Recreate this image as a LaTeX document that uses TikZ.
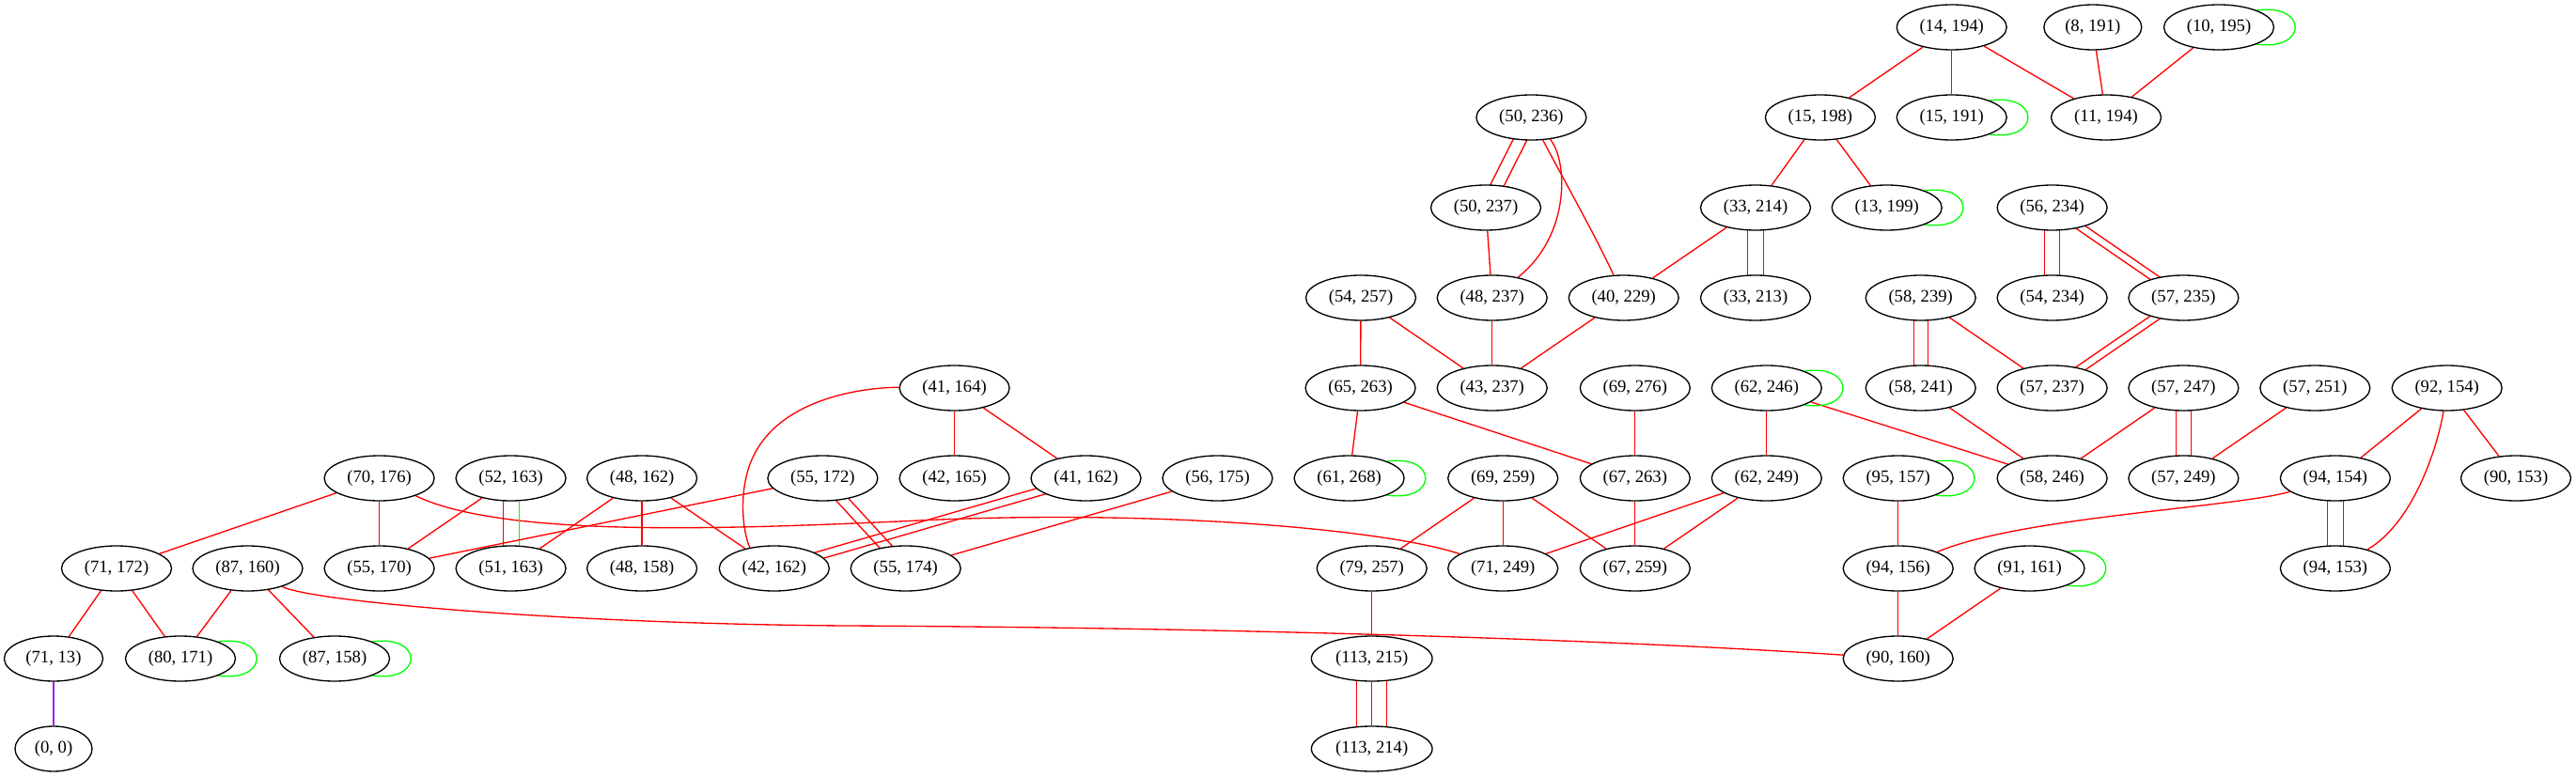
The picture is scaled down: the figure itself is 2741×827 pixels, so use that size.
\documentclass[tikz,border=0pt]{standalone}
\usepackage{fontspec}
\setmainfont{Liberation Serif}
\usetikzlibrary{shapes.geometric,calc,backgrounds}
\definecolor{gvred}{HTML}{FF0000}
\definecolor{gvgreen}{HTML}{00FF00}
\definecolor{gvpurple}{HTML}{A020F0}
\tikzset{
  nd/.style={draw=black, fill=white, ellipse, line width=1pt, inner sep=0pt,
    minimum width=87.75pt, minimum height=36pt, font=\fontsize{14pt}{16pt}\selectfont},
  e/.style={draw=gvred, line width=1pt},
  g/.style={draw=gvgreen, line width=1pt},
  p/.style={draw=gvpurple, line width=1pt}
}
\newcommand\dbledge[4]{%
  \draw[e] ($(#1)+(#3,#4)$) -- ($(#2)+(#3,#4)$);
  \draw[e] ($(#1)-(#3,#4)$) -- ($(#2)-(#3,#4)$);}
\newcommand\selfloop[1]{%
  \draw[g] ($(#1)+(40,-18)$) .. controls ($(#1)+(95,-26)$) and ($(#1)+(95,26)$) .. ($(#1)+(40,18)$);}
\begin{document}
\begin{tikzpicture}[x=0.75pt,y=-0.75pt]
\useasboundingbox (0,0) rectangle (2741,827);
% row 1
\node[nd] (n14x194) at (2076.7,29) {(14, 194)};
\node[nd,minimum width=78pt] (n8x191) at (2226.8,29) {(8, 191)};
\node[nd] (n10x195) at (2361,29) {(10, 195)};
% row 2
\node[nd] (n50x236) at (1629.4,125) {(50, 236)};
\node[nd] (n15x198) at (1936.9,125) {(15, 198)};
\node[nd] (n15x191) at (2076.7,125) {(15, 191)};
\node[nd] (n11x194) at (2241,125) {(11, 194)};
% row 3
\node[nd] (n50x237) at (1581,221) {(50, 237)};
\node[nd] (n33x214) at (1868,221) {(33, 214)};
\node[nd] (n13x199) at (2007.7,221) {(13, 199)};
\node[nd] (n56x234) at (2183.6,221) {(56, 234)};
% row 4
\node[nd] (n54x257) at (1448,317) {(54, 257)};
\node[nd] (n48x237) at (1587.7,317) {(48, 237)};
\node[nd] (n40x229) at (1727.7,317) {(40, 229)};
\node[nd] (n33x213) at (1868,317) {(33, 213)};
\node[nd] (n58x239) at (2043.7,317) {(58, 239)};
\node[nd] (n54x234) at (2183.6,317) {(54, 234)};
\node[nd] (n57x235) at (2323.4,317) {(57, 235)};
% row 5
\node[nd] (n41x164) at (1015.6,413) {(41, 164)};
\node[nd] (n65x263) at (1447.6,413) {(65, 263)};
\node[nd] (n43x237) at (1587.7,413) {(43, 237)};
\node[nd] (n69x276) at (1739.8,413) {(69, 276)};
\node[nd] (n62x246) at (1879.8,413) {(62, 246)};
\node[nd] (n58x241) at (2043.7,413) {(58, 241)};
\node[nd] (n57x237) at (2183.6,413) {(57, 237)};
\node[nd] (n57x247) at (2323.4,413) {(57, 247)};
\node[nd] (n57x251) at (2463.3,413) {(57, 251)};
\node[nd] (n92x154) at (2603.7,413) {(92, 154)};
% row 6
\node[nd] (n70x176) at (403.6,509) {(70, 176)};
\node[nd] (n52x163) at (543.6,509) {(52, 163)};
\node[nd] (n48x162) at (683.1,509) {(48, 162)};
\node[nd] (n55x172) at (875.4,509) {(55, 172)};
\node[nd] (n42x165) at (1015.6,509) {(42, 165)};
\node[nd] (n41x162) at (1155.5,509) {(41, 162)};
\node[nd] (n56x175) at (1295.5,509) {(56, 175)};
\node[nd] (n61x268) at (1435.6,509) {(61, 268)};
\node[nd] (n69x259) at (1599.2,509) {(69, 259)};
\node[nd] (n67x263) at (1739.8,509) {(67, 263)};
\node[nd] (n62x249) at (1879.8,509) {(62, 249)};
\node[nd] (n95x157) at (2019.7,509) {(95, 157)};
\node[nd] (n58x246) at (2183.6,509) {(58, 246)};
\node[nd] (n57x249) at (2323.4,509) {(57, 249)};
\node[nd] (n94x154) at (2484.9,509) {(94, 154)};
\node[nd] (n90x153) at (2677,509) {(90, 153)};
% row 7
\node[nd] (n71x172) at (124,605) {(71, 172)};
\node[nd] (n87x160) at (263.5,605) {(87, 160)};
\node[nd] (n55x170) at (403.6,605) {(55, 170)};
\node[nd] (n51x163) at (543.6,605) {(51, 163)};
\node[nd] (n48x158) at (683.1,605) {(48, 158)};
\node[nd] (n42x162) at (823.8,605) {(42, 162)};
\node[nd] (n55x174) at (963.7,605) {(55, 174)};
\node[nd] (n79x257) at (1459.7,605) {(79, 257)};
\node[nd] (n71x249) at (1599.2,605) {(71, 249)};
\node[nd] (n67x259) at (1739.8,605) {(67, 259)};
\node[nd] (n94x156) at (2019.7,605) {(94, 156)};
\node[nd] (n91x161) at (2159.5,605) {(91, 161)};
\node[nd] (n94x153) at (2484.9,605) {(94, 153)};
% row 8
\node[nd,minimum width=78.75pt] (n71x13) at (57,701) {(71, 13)};
\node[nd] (n80x171) at (192,701) {(80, 171)};
\node[nd] (n87x158) at (356,701) {(87, 158)};
\node[nd,minimum width=96.5pt] (n113x215) at (1459.7,701) {(113, 215)};
\node[nd] (n90x160) at (2019.7,701) {(90, 160)};
% row 9
\node[nd,minimum width=61.5pt] (n0x0) at (57,797) {(0, 0)};
\node[nd,minimum width=96.5pt] (n113x214) at (1459.7,797) {(113, 214)};

\begin{pgfonlayer}{background}
\draw[e] (n14x194) -- (n15x198);
\draw[e] (n14x194) -- (n15x191);
\draw[e] (n14x194) -- (n11x194);
\draw[e] (n8x191) -- (n11x194);
\draw[e] (n10x195) -- (n11x194);
\draw[e] (n15x198) -- (n33x214);
\draw[e] (n15x198) -- (n13x199);
\dbledge{n50x236}{n50x237}{7.5}{0}
\draw[e] (n50x236) .. controls (1668,170) and (1672,250) .. (n48x237);
\draw[e] (n50x236) .. controls (1655,175) and (1700,255) .. (n40x229);
\draw[e] (n50x237) -- (n48x237);
\draw[e] (n33x214) -- (n40x229);
\dbledge{n33x214}{n33x213}{8.4}{0}
\dbledge{n56x234}{n54x234}{8}{0}
\dbledge{n56x234}{n57x235}{5.4}{-1}
\draw[e] (n54x257) -- (n65x263);
\draw[e] (n54x257) -- (n43x237);
\draw[e] (n48x237) -- (n43x237);
\draw[e] (n40x229) -- (n43x237);
\dbledge{n58x239}{n58x241}{7.5}{0}
\draw[e] (n58x239) -- (n57x237);
\dbledge{n57x235}{n57x237}{6}{0.8}
\draw[e] (n41x164) -- (n42x165);
\draw[e] (n41x164) -- (n41x162);
\draw[e] (n41x164) .. controls (930,412) and (820,420) .. (796,500) .. controls (784,540) and (795,580) .. (n42x162);
\draw[e] (n65x263) -- (n61x268);
\draw[e] (n65x263) -- (n67x263);
\draw[e] (n69x276) -- (n67x263);
\draw[e] (n62x246) -- (n62x249);
\draw[e] (n62x246) -- (n58x246);
\draw[e] (n58x241) -- (n58x246);
\draw[e] (n57x247) -- (n58x246);
\dbledge{n57x247}{n57x249}{8}{0}
\draw[e] (n57x251) -- (n57x249);
\draw[e] (n92x154) -- (n94x154);
\draw[e] (n92x154) -- (n90x153);
\draw[e] (n92x154) .. controls (2595,470) and (2570,555) .. (n94x153);
\draw[e] (n70x176) -- (n71x172);
\draw[e] (n70x176) -- (n55x170);
\draw[e] (n70x176) .. controls (540,575) and (800,562) .. (1000,553) .. controls (1250,543) and (1480,565) .. (n71x249);
\draw[e] (n52x163) -- (n55x170);
\draw[e] ($(n52x163)+(-8,0)$) -- ($(n51x163)+(-8,0)$);
\draw[g] ($(n52x163)+(8.6,0)$) -- ($(n51x163)+(8.6,0)$);
\draw[e] (n48x162) -- (n51x163);
\draw[e] (n48x162) -- (n48x158);
\draw[e] (n48x162) -- (n42x162);
\draw[e] (n55x172) -- (n55x170);
\dbledge{n55x172}{n55x174}{6.7}{-1}
\dbledge{n41x162}{n42x162}{1.2}{4}
\draw[e] (n56x175) -- (n55x174);
\draw[e] (n69x259) -- (n79x257);
\draw[e] (n69x259) -- (n71x249);
\draw[e] (n69x259) -- (n67x259);
\draw[e] (n67x263) -- (n67x259);
\draw[e] (n62x249) -- (n71x249);
\draw[e] (n62x249) -- (n67x259);
\draw[e] (n95x157) -- (n94x156);
\draw[e] (n94x154) .. controls (2380,540) and (2150,550) .. (n94x156);
\dbledge{n94x154}{n94x153}{8.4}{0}
\draw[e] (n71x172) -- (n71x13);
\draw[e] (n71x172) -- (n80x171);
\draw[e] (n87x160) -- (n80x171);
\draw[e] (n87x160) -- (n87x158);
\draw[e] (n87x160) .. controls (330,640) and (600,664) .. (900,666) .. controls (1300,668) and (1700,680) .. (n90x160);
\draw[e] (n79x257) -- (n113x215);
\draw[e] (n94x156) -- (n90x160);
\draw[e] (n91x161) -- (n90x160);
\draw[p] (n71x13) -- (n0x0);
\draw[e] (n113x215) -- (n113x214);
\dbledge{n113x215}{n113x214}{16}{0}
\selfloop{n10x195}
\selfloop{n15x191}
\selfloop{n13x199}
\selfloop{n62x246}
\selfloop{n61x268}
\selfloop{n95x157}
\selfloop{n91x161}
\selfloop{n80x171}
\selfloop{n87x158}
\end{pgfonlayer}
\end{tikzpicture}
\end{document}
